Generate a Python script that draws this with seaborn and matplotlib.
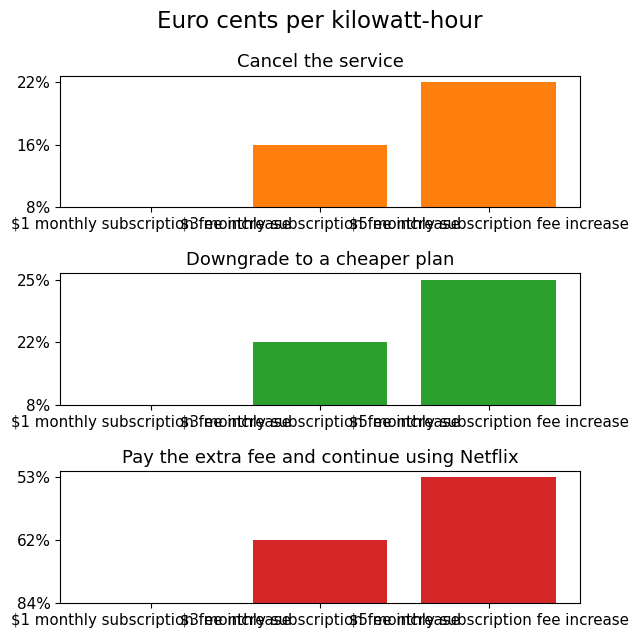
import matplotlib
matplotlib.use("Agg")
import matplotlib.pyplot as plt
import seaborn as sns
import pandas as pd

categories = [
    "$1 monthly subscription fee increase",
    "$3 monthly subscription fee increase",
    "$5 monthly subscription fee increase",
]
cancel_values = ["8%", "16%", "22%"]
downgrade_values = ["8%", "22%", "25%"]
pay_values = ["84%", "62%", "53%"]

titles = [
    "Cancel the service",
    "Downgrade to a cheaper plan",
    "Pay the extra fee and continue using Netflix",
]
colors = ["tab:orange", "tab:green", "tab:red"]
suptitle = "Euro cents per kilowatt-hour"

fig, axes = plt.subplots(3, 1, figsize=(6.4, 6.4), dpi=100)
for ax, vals, title, color in zip(axes, [cancel_values, downgrade_values, pay_values], titles, colors):
    # string values are treated as categories in order of appearance
    levels = list(dict.fromkeys(vals))
    heights = [levels.index(v) for v in vals]
    df = pd.DataFrame({"cat": categories, "h": heights})
    sns.barplot(data=df, x="cat", y="h", color=color, saturation=1, width=0.8, ax=ax, linewidth=0)
    ax.set_yticks(range(len(levels)))
    ax.set_yticklabels(levels)
    ax.tick_params(axis="y", labelsize=11)
    ax.tick_params(axis="x", labelsize=10.8)
    ax.set_xlim(-0.54, 2.54)
    ax.set_ylim(0, (len(levels) - 1) * 1.05)
    ax.set_xlabel("")
    ax.set_ylabel("")
    ax.set_title(title, fontsize=13)

fig.suptitle(suptitle, fontsize=16.5, y=0.985)
fig.subplots_adjust(left=0.094, right=0.906, top=0.882, bottom=0.058, hspace=0.5)
fig.savefig("out.png", dpi=100)
